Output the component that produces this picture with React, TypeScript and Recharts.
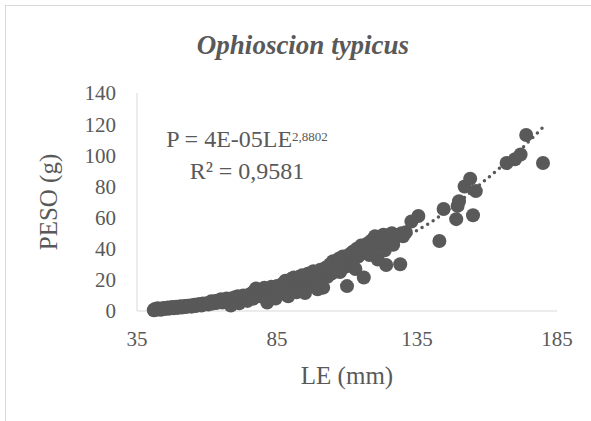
import { Scatter, ScatterChart, XAxis, YAxis } from "recharts";

const serif = "'Liberation Serif', 'Times New Roman', serif";
const grey = "#595959";

// LE (mm) and PESO (g), group by group
const leValues = [
  41, 41.3, 41.6, 41.8, 42, 42.5, 43, 43.5, 44, 44.5, 45, 45.5, 46, 46.5, 47, 47.5, 48, 48.5, 49, 49.5,
  50, 50.5, 51, 51.5, 52, 52.5, 53, 53.5, 54, 54.5, 55, 55.5, 56, 56.5, 57, 57.5, 58, 58.5, 59, 60,
  60.5, 61, 61.5, 62, 62.5, 63, 63.5, 64, 64.5, 65, 65.5, 66, 66.5, 67, 67.5,
  68, 68.5, 69, 69.5, 70, 70.5, 71, 71.5, 72, 72.5, 73, 73.5, 74, 74.5, 75,
  75.5, 76, 76.5, 77, 77.5, 78, 78.5, 79, 79.5, 80, 80.5, 81, 81.5, 82, 82.5,
  83, 83.5, 84, 84.5, 85, 85.5, 86, 86.5, 87, 87.5, 88, 88.5, 89, 89.5, 90,
  90.5, 91, 91.5, 92, 92.5, 93, 93.5, 94, 94.5, 95, 95.5, 96, 96.5, 97, 97.5,
  98, 98.5, 99, 99.5, 100, 100.5, 101, 101.5, 102, 102.5, 103, 103.5, 104, 104.5, 105,
  105.5, 106, 107, 107.5, 108, 108.5, 109, 110, 110.5, 111, 111.5, 112, 112.5, 113, 113.5, 114, 115,
  115.5, 116, 116.5, 117, 118, 118.5, 119, 120, 120.5, 121, 122, 123, 123.5, 124, 124.5, 125,
  126, 126.5, 127, 128, 129, 129.5, 130, 131, 133, 135.5,
  143, 144.5, 149, 149.5, 150, 152, 154, 155, 156, 167, 170, 172, 174, 180,
];

const pesoValues = [
  0.5, 1.2, 0.8, 1.5, 1.0, 1.8, 1.2, 0.8, 1.5, 2.0, 1.3, 1.8, 2.2, 1.5, 2.0, 2.5, 1.8, 2.3, 2.8, 2.0,
  2.5, 3.0, 2.2, 2.8, 3.2, 2.6, 3.4, 3.0, 3.6, 2.8, 3.5, 4.0, 3.2, 4.2, 3.8, 4.5, 3.5, 4.8, 4.2, 5.0,
  4.2, 5.5, 6.2, 4.8, 5.8, 6.5, 5.2, 6.8, 6.0, 7.5, 5.5, 7.0, 6.5, 8.0, 6.8,
  7.5, 3.5, 8.2, 6.0, 8.8, 7.2, 9.5, 5.0, 8.5, 7.8, 10.0, 8.5, 9.0, 6.5, 10.5,
  9.0, 11.5, 8.0, 12.5, 14.5, 10.0, 12.0, 9.5, 13.0, 11.0, 15.0, 12.5, 5.5, 13.5, 10.5,
  15.5, 12.0, 14.0, 8.0, 16.0, 13.0, 15.0, 11.0, 17.5, 14.0, 19.5, 16.0, 9.5, 18.0, 20.5,
  15.0, 21.5, 17.0, 12.0, 20.0, 22.0, 18.0, 23.0, 16.0, 11.5, 21.0, 24.0, 19.0, 22.5, 17.0,
  25.5, 21.0, 24.5, 14.0, 23.0, 26.5, 20.0, 15.0, 25.0, 28.0, 22.0, 26.0, 30.0, 24.0, 32.0,
  27.0, 29.0, 33.5, 25.0, 30.5, 35.0, 28.0, 16.0, 32.0, 36.5, 29.0, 38.0, 33.0, 27.0, 40.0, 35.0, 42.0,
  37.0, 21.5, 39.0, 43.0, 36.0, 45.0, 40.0, 48.0, 42.0, 33.0, 46.0, 49.0, 39.0, 29.5, 44.0, 48.0,
  50.0, 42.5, 47.0, 48.5, 30.0, 50.0, 48.0, 50.5, 57.5, 61.0,
  45.0, 65.5, 59.0, 67.5, 70.5, 80.0, 85.0, 61.5, 77.0, 95.0, 97.5, 100.5, 113.0, 95.0,
];

// power trendline
const trendLe = [40, 50, 60, 70, 80, 90, 100, 110, 120, 130, 140, 150, 160, 170, 180];
const trendPeso = [1.6, 3, 5, 7.8, 11.5, 16, 22, 29, 37, 46.5, 57, 70, 85, 100, 118];

const xTicks = [35, 85, 135, 185];
const yTicks = [0, 20, 40, 60, 80, 100, 120, 140];

const points = leValues.map((le, i) => ({ x: le, y: pesoValues[i] }));
const trend = trendLe.map((le, i) => ({ x: le, y: trendPeso[i] }));

const tickStyle = { fill: grey, fontSize: 21, fontFamily: serif };

export default function App() {
  return (
    <div style={{ position: "fixed", left: 0, top: 0, width: 591, height: 421, background: "#fff" }}>
      <div
        style={{
          position: "absolute",
          left: 5,
          top: 5,
          width: 586,
          height: 416,
          borderTop: "1px solid #d9d9d9",
          borderLeft: "1px solid #d9d9d9",
        }}
      />
      <div
        style={{
          position: "absolute",
          left: 103,
          top: 32,
          width: 400,
          textAlign: "center",
          fontFamily: serif,
          fontSize: 27,
          lineHeight: 1,
          fontWeight: "bold",
          fontStyle: "italic",
          color: grey,
        }}
      >
        Ophioscion typicus
      </div>
      <ScatterChart
        width={591}
        height={421}
        margin={{ top: 93, right: 34, bottom: 0, left: 0 }}
        style={{ position: "absolute", left: 0, top: 0 }}
      >
        <XAxis
          type="number"
          dataKey="x"
          domain={[35, 185]}
          ticks={xTicks}
          tickLine={false}
          axisLine={{ stroke: "#d9d9d9" }}
          tick={tickStyle}
          tickMargin={14}
          height={110}
          label={{
            value: "LE (mm)",
            position: "insideBottom",
            offset: 37,
            fill: grey,
            fontSize: 25,
            fontFamily: serif,
          }}
        />
        <YAxis
          type="number"
          dataKey="y"
          domain={[0, 140]}
          ticks={yTicks}
          tickLine={false}
          axisLine={{ stroke: "#d9d9d9" }}
          tick={tickStyle}
          tickMargin={15}
          width={137}
          label={{
            value: "PESO (g)",
            angle: -90,
            position: "insideLeft",
            offset: 48,
            fill: grey,
            fontSize: 25,
            fontFamily: serif,
            style: { textAnchor: "middle" },
          }}
        />
        <Scatter
          data={points}
          isAnimationActive={false}
          shape={(p: any) => <circle cx={p.cx} cy={p.cy} r={7} fill={grey} />}
        />
        <Scatter
          data={trend}
          isAnimationActive={false}
          line={{ stroke: grey, strokeWidth: 3.5, strokeDasharray: "0 6.5", strokeLinecap: "round" }}
          lineType="joint"
          shape={() => <g />}
        />
      </ScatterChart>
      <div
        style={{
          position: "absolute",
          left: 147,
          top: 125,
          width: 200,
          textAlign: "center",
          fontFamily: serif,
          fontSize: 24,
          lineHeight: "28px",
          color: grey,
        }}
      >
        <div>
          P = 4E-05LE
          <span style={{ fontSize: 13, position: "relative", top: -6 }}>2,8802</span>
        </div>
        <div>R² = 0,9581</div>
      </div>
    </div>
  );
}
